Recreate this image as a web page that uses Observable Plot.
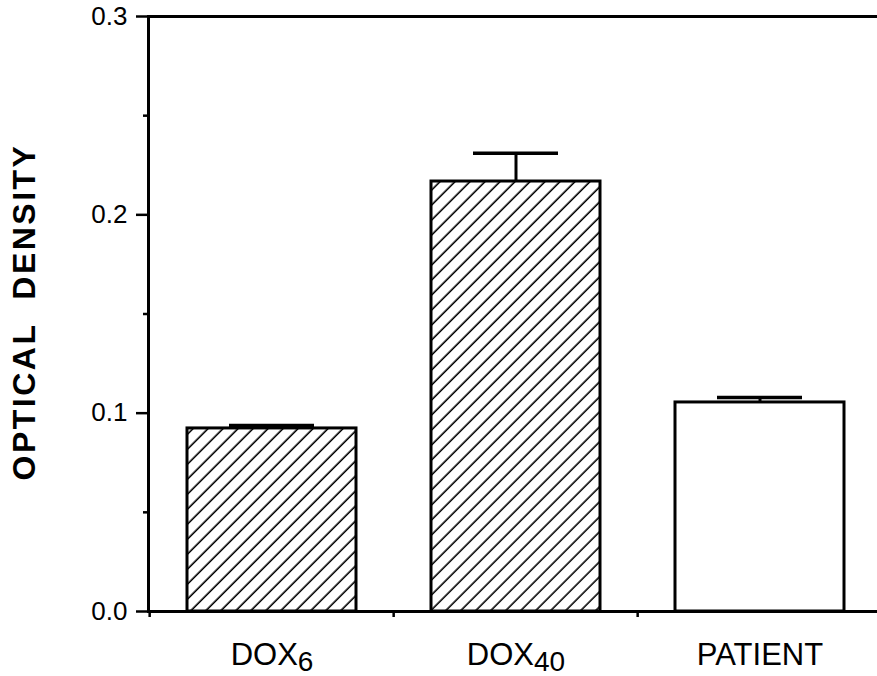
<!DOCTYPE html>
<html>
<head>
<meta charset="utf-8">
<script src="https://cdn.jsdelivr.net/npm/d3@7"></script>
<script src="https://cdn.jsdelivr.net/npm/@observablehq/plot@0.6"></script>
<style>
  html, body { margin: 0; padding: 0; background: #fff; }
  #chart svg { display: block; }
</style>
</head>
<body>
<div id="chart"></div>
<script>
// ---- data ----
const categories = ["DOX6", "DOX40", "PATIENT"];
const labelBase = ["DOX", "DOX", "PATIENT"];
const labelSub = ["6", "40", ""];
const values = [0.0923, 0.2168, 0.1054];
const errors = [0.0015, 0.0142, 0.0025];
const hatched = [true, true, false];
const yTicks = [0, 0.1, 0.2, 0.3];
const yMinorTicks = [0.05, 0.15, 0.25];
const yTitle = "OPTICAL DENSITY";

const data = categories.map((c, i) => ({
  cat: c, value: values[i], err: errors[i], hatched: hatched[i]
}));

const W = 877, H = 676;
const mL = 148, mR = -6, mT = 16, mB = 65;
const padInner = 0.306, padOuter = 0.155;
const step = (W - mR - mL) / (categories.length - padInner + 2 * padOuter);

const chart = Plot.plot({
  width: W,
  height: H,
  marginLeft: mL,
  marginRight: mR,
  marginTop: mT,
  marginBottom: mB,
  style: { fontFamily: "'Liberation Sans', Arial, Helvetica, sans-serif", background: "#fff", color: "#000" },
  x: { domain: categories, paddingInner: padInner, paddingOuter: padOuter, align: 0.5 },
  y: { domain: [0, 0.3] },
  marks: [
    // boundary ticks on x axis
    Plot.axisX({ tickSize: 6, tickFormat: () => "", dx: -step / 2, strokeWidth: 2.5, label: null }),
    // x labels
    Plot.axisX({ tickSize: 0, tickPadding: 31, label: null, tickFormat: d => d }),
    // y axis major ticks
    Plot.axisY({ ticks: yTicks, tickSize: 12, tickPadding: 9, strokeWidth: 2.5,
                 tickFormat: d3.format(".1f"), label: null }),
    // y axis minor ticks
    Plot.axisY({ ticks: yMinorTicks, tickSize: 5, strokeWidth: 2.5, tickFormat: () => "", label: null }),
    // error bar stems
    Plot.ruleX(data, { x: "cat", y1: "value", y2: d => d.value + d.err, stroke: "#000", strokeWidth: 3 }),
    // error bar caps
    Plot.tickY(data, { x: "cat", y: d => d.value + d.err, stroke: "#000", strokeWidth: 3.5,
                       insetLeft: 42, insetRight: 42 }),
    // bars
    Plot.barY(data.filter(d => d.hatched), { x: "cat", y: "value", fill: "url(#hatch)", stroke: "#000", strokeWidth: 3 }),
    Plot.barY(data.filter(d => !d.hatched), { x: "cat", y: "value", fill: "#fff", stroke: "#000", strokeWidth: 3 }),
    // frame (left, top, bottom visible)
    Plot.frame({ stroke: "#000", strokeWidth: 3 }),
    // y title
    Plot.text([yTitle], { frameAnchor: "left", textAnchor: "middle", rotate: -90, dx: -124, dy: -2,
                          text: d => d, fill: "#000" })
  ]
});

// hatch pattern
const svg = d3.select(chart);
const defs = svg.insert("defs", ":first-child");
const pat = defs.append("pattern")
  .attr("id", "hatch")
  .attr("patternUnits", "userSpaceOnUse")
  .attr("width", 10.6)
  .attr("height", 10.6)
  .attr("patternTransform", "rotate(45)");
pat.append("rect").attr("width", 10.6).attr("height", 10.6).attr("fill", "#fff");
pat.append("line").attr("x1", 5).attr("y1", 0).attr("x2", 5).attr("y2", 10.6)
  .attr("stroke", "#000").attr("stroke-width", 1.6);

// x labels with subscripts
svg.selectAll('g[aria-label="x-axis tick label"] text').each(function () {
  const t = d3.select(this);
  const idx = categories.indexOf(t.text());
  if (idx < 0) return;
  t.style("font-size", "31px");
  t.text(null);
  t.append("tspan").text(labelBase[idx]);
  if (labelSub[idx]) t.append("tspan").attr("dy", 6).style("font-size", "28px").text(labelSub[idx]);
});

// y tick labels
svg.selectAll('g[aria-label="y-axis tick label"] text').style("font-size", "26px");

// y title
svg.selectAll('g[aria-label="text"] text')
  .style("font-size", "32px").style("font-weight", "bold")
  .style("letter-spacing", "2.5px").style("word-spacing", "12px");

document.getElementById("chart").appendChild(chart);
</script>
</body>
</html>
